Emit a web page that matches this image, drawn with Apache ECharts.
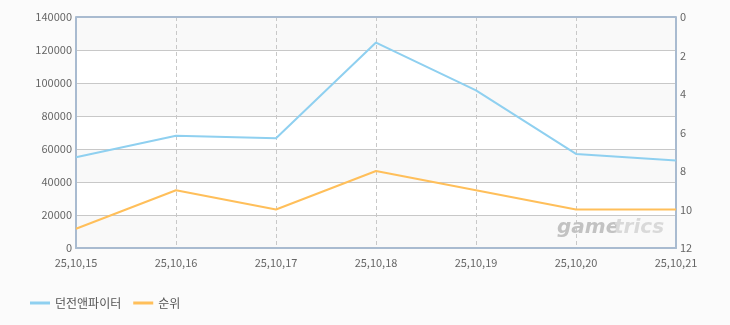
<!DOCTYPE html>
<html><head><meta charset="utf-8">
<script src="https://cdn.jsdelivr.net/npm/echarts@6/dist/echarts.min.js"></script>
<style>html,body{margin:0;padding:0;background:#fbfbfb}#c{width:730px;height:325px}</style>
</head><body><div id="c"></div>
<script>
const categories = ['25,10,15','25,10,16','25,10,17','25,10,18','25,10,19','25,10,20','25,10,21'];
const usersValues = [55000, 68000, 66500, 124500, 95500, 57000, 53000];
const rankValues = [11, 9, 10, 8, 9, 10, 10];
const leftTicks = {min: 0, max: 140000, interval: 20000};
const rightTicks = {min: 0, max: 12, interval: 2};
const seriesNames = ['던전앤파이터', '순위'];

const font = '"Noto Sans CJK KR", "DejaVu Sans", sans-serif';
const chart = echarts.init(document.getElementById('c'));
chart.setOption({
  backgroundColor: '#fbfbfb',
  animation: false,
  textStyle: {fontFamily: font},
  grid: {left: 76, right: 54, top: 17, bottom: 77, containLabel: false},
  legend: {
    left: 25, bottom: 11, itemWidth: 20, itemHeight: 3, itemGap: 12,
    icon: 'rect',
    textStyle: {color: '#555', fontSize: 12, fontFamily: font},
    data: seriesNames
  },
  graphic: [{
    type: 'group', z: 100, children: [{
      type: 'text', x: 557, y: 218, z: 100,
      style: {text: 'game', font: 'italic bold 20px "DejaVu Sans"', fill: '#c2c2c2'}
    }, {
      type: 'text', x: 614, y: 218, z: 100,
      style: {text: 'trics', font: 'italic bold 20px "DejaVu Sans"', fill: '#d9d9d9'}
    }]
  }],
  xAxis: {
    type: 'category', data: categories, boundaryGap: false,
    axisLine: {lineStyle: {color: '#a9bbd0', width: 2}},
    axisTick: {show: false},
    axisLabel: {color: '#666', fontSize: 11, margin: 9, fontFamily: font},
    splitLine: {show: true, lineStyle: {color: '#c8c8c8', type: [4, 3], width: 1}}
  },
  yAxis: [{
    type: 'value', min: leftTicks.min, max: leftTicks.max, interval: leftTicks.interval,
    axisLine: {show: true, lineStyle: {color: '#a9bbd0', width: 2}},
    axisTick: {show: false},
    axisLabel: {color: '#666', fontSize: 11, margin: 4, fontFamily: font, formatter: v => String(v)},
    splitLine: {show: true, lineStyle: {color: '#c8c8c8', width: 1}},
    splitArea: {show: true, areaStyle: {color: ['#f9f9f9', '#ffffff']}}
  }, {
    type: 'value', inverse: true, min: rightTicks.min, max: rightTicks.max, interval: rightTicks.interval,
    position: 'right',
    axisLine: {show: true, lineStyle: {color: '#a9bbd0', width: 2}},
    axisTick: {show: false},
    axisLabel: {color: '#666', fontSize: 11, margin: 4, fontFamily: font},
    splitLine: {show: false}
  }],
  series: [{
    name: seriesNames[0], type: 'line', data: usersValues, yAxisIndex: 0,
    symbol: 'none', lineStyle: {color: '#8fd0f0', width: 2}, itemStyle: {color: '#8fd0f0'}
  }, {
    name: seriesNames[1], type: 'line', data: rankValues, yAxisIndex: 1,
    symbol: 'none', lineStyle: {color: '#ffbf5a', width: 2}, itemStyle: {color: '#ffbf5a'}
  }, {
    type: 'line', data: [], markLine: {silent: true, symbol: 'none', label: {show: false},
      lineStyle: {color: '#a9bbd0', width: 2, type: 'solid'}, data: [{yAxis: 140000}]}
  }]
});
</script></body></html>
